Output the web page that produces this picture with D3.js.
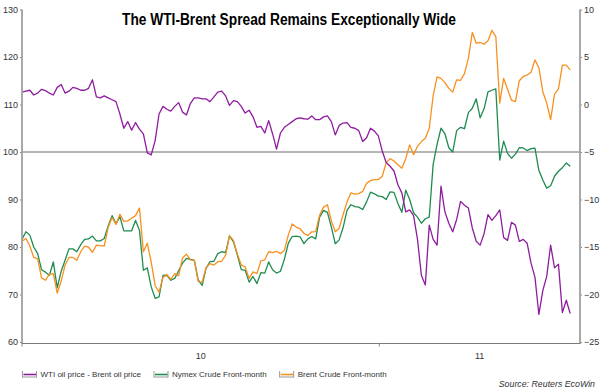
<!DOCTYPE html>
<html><head><meta charset="utf-8">
<script src="https://cdn.jsdelivr.net/npm/d3@7"></script>
<style>body{margin:0;background:#fff}svg{display:block;font-family:"Liberation Sans",Arial,sans-serif}</style>
</head><body><svg id="c" width="600" height="390"></svg>
<script>
// ---- data ----
const startDate = "2010-01-01";
const stepDays = 4;
const spread = [1.3,1.4,1.5,1.0,1.2,1.6,1.45,1.2,1.0,1.8,
2.1,1.2,1.4,1.8,1.7,1.5,1.5,1.7,2.6,0.8,
0.7,0.9,0.7,0.5,0.3,-1.0,-2.5,-1.8,-2.7,-1.9,
-2.6,-3.1,-5.1,-5.3,-3.8,-1.0,-0.2,-0.5,-0.7,-0.2,
0.2,-0.8,-1.1,0.1,0.7,0.7,0.6,0.6,0.3,0.8,
1.3,1.4,0.9,-0.1,0.4,0.3,-0.2,-0.9,-0.6,-1.3,
-2.4,-2.3,-3.0,-1.7,-3.1,-4.7,-3.0,-2.4,-2.1,-1.8,
-1.5,-1.4,-1.5,-1.55,-1.2,-1.6,-1.6,-1.3,-1.2,-1.8,
-3.2,-2.2,-1.95,-1.9,-2.4,-2.5,-2.75,-3.9,-3.5,-2.5,
-2.8,-3.3,-4.9,-6.1,-6.5,-7.0,-8.45,-9.3,-11.3,-11.1,
-11.7,-14.2,-18.0,-19.0,-12.7,-14.2,-14.8,-8.6,-11.3,-12.5,
-13.4,-12.1,-10.2,-10.6,-10.9,-13.0,-14.4,-14.8,-13.6,-11.6,
-12.2,-11.7,-11.1,-14.0,-14.3,-12.4,-12.7,-14.4,-14.2,-14.6,
-16.7,-18.2,-22.1,-19.6,-18.1,-14.8,-17.2,-16.8,-21.9,-20.6,
-22.0];
const nymex = [81.6,83.2,82.5,80.0,78.6,75.2,74.7,74.05,76.85,71.4,
74.9,77.2,79.6,79.6,79.0,80.5,81.6,81.7,82.3,81.3,
81.3,81.8,84.4,86.6,84.9,86.4,83.4,83.4,83.4,85.6,
83.5,75.1,75.6,71.6,69.2,69.5,74.0,74.05,73.0,73.4,
75.0,76.6,77.6,77.4,77.2,73.1,71.9,75.5,76.9,77.0,
78.6,79.0,78.8,82.35,81.1,78.3,75.25,75.1,72.6,73.8,
72.3,74.6,74.5,76.85,75.2,74.5,74.9,77.4,80.75,82.2,
82.3,82.15,80.7,81.7,82.2,81.7,86.3,87.7,87.3,84.2,
80.7,81.5,84.1,87.7,88.9,88.5,88.4,87.9,89.5,91.55,
91.2,90.7,90.6,90.0,91.6,91.5,89.15,87.3,91.95,90.0,
87.2,86.3,85.0,85.95,86.3,97.4,101.6,105.0,103.85,100.9,
100.0,104.5,105.2,104.9,108.3,109.2,111.2,107.2,109.1,112.65,
113.0,113.3,98.3,102.3,99.7,98.7,99.55,100.9,100.85,100.3,
100.7,100.8,96.1,94.1,92.4,92.9,94.9,95.95,96.7,97.7,
97.0];
const brent = [81.2,81.8,80.2,77.8,77.5,73.5,73.0,74.3,74.4,70.3,
72.8,76.2,77.8,77.8,77.2,79.0,80.2,79.95,78.9,80.4,
80.3,80.2,84.1,86.2,84.75,86.9,85.4,85.5,86.05,86.6,
88.2,79.0,80.8,76.8,71.9,70.5,73.6,74.2,73.2,74.4,
73.95,77.7,78.5,77.3,77.25,72.7,72.6,75.6,76.5,76.2,
76.9,77.0,78.3,82.35,81.4,78.5,76.2,75.8,73.4,74.75,
74.4,77.1,77.3,79.0,78.8,79.1,78.6,79.3,82.5,84.85,
84.2,83.85,82.9,82.4,83.2,83.25,86.7,88.4,88.9,85.5,
83.2,83.95,86.8,89.5,91.4,91.15,91.25,91.7,93.4,94.0,
94.2,94.2,94.9,97.7,98.6,98.1,97.3,96.6,98.6,101.5,
99.4,101.2,102.2,102.9,105.0,111.85,115.8,115.5,114.6,113.4,
112.6,115.2,115.1,116.5,119.75,125.2,122.9,123.05,122.7,123.4,
125.6,124.3,110.3,115.5,113.2,110.9,110.6,115.0,115.9,116.2,
116.8,119.4,117.75,112.7,110.3,106.8,112.2,113.3,118.3,118.3,
117.3];
const leftTicks = [60,70,80,90,100,110,120,130];
const rightTicks = [-25,-20,-15,-10,-5,0,5,10];
const yearStarts = ["2010-01-01","2011-01-01"];
const xDomain = ["2010-01-01","2011-07-25"];
const seriesNames = ["WTI oil price - Brent oil price","Nymex Crude Front-month","Brent Crude Front-month"];
const seriesColors = ["#8e1c9e","#1e8c50","#f7901e"];
const titleText = "The WTI-Brent Spread Remains Exceptionally Wide";
const sourceText = "Source: Reuters EcoWin";

// ---- chart ----
const parse = d3.timeParse("%Y-%m-%d");
const t0 = parse(startDate);
const dates = spread.map((_, i) => d3.timeDay.offset(t0, i * stepDays));
const svg = d3.select("#c");
const L = 22, R = 580, T = 9.5, B = 342;
const x = d3.scaleTime().domain(xDomain.map(parse)).range([L, R]);
const yL = d3.scaleLinear().domain([60, 130]).range([B, T]);
const yR = d3.scaleLinear().domain([-25, 10]).range([B, T]);

// reference line at 100 / -5
svg.append("line").attr("x1", L).attr("x2", R)
  .attr("y1", yL(100)).attr("y2", yL(100))
  .attr("stroke", "#6a6a6a").attr("stroke-width", 1);

// lines
const series = [
  {vals: spread, y: yR, color: seriesColors[0]},
  {vals: nymex, y: yL, color: seriesColors[1]},
  {vals: brent, y: yL, color: seriesColors[2]}
];
[series[1], series[2], series[0]].forEach(s => {
  const line = d3.line().x((d, i) => x(dates[i])).y(d => s.y(d));
  svg.append("path").datum(s.vals).attr("d", line)
    .attr("fill", "none").attr("stroke", s.color)
    .attr("stroke-width", 1.3).attr("stroke-linejoin", "round");
});

// left axis
const gl = svg.append("g").attr("transform", `translate(${L},0)`)
  .call(d3.axisLeft(yL).tickValues(leftTicks).tickSize(2).tickPadding(2).tickSizeOuter(0));
// right axis
const gr = svg.append("g").attr("transform", `translate(${R},0)`)
  .call(d3.axisRight(yR).tickValues(rightTicks).tickSize(2).tickPadding(2).tickSizeOuter(0));
[gl, gr].forEach(g => {
  g.select(".domain").remove();
  g.selectAll(".tick line").attr("stroke", "#888");
  g.selectAll(".tick text").attr("fill", "#333").style("font-size", "9px")
    .style("font-family", '"Liberation Sans",Arial,sans-serif');
});
// axis lines
svg.append("line").attr("x1", L).attr("x2", L).attr("y1", T).attr("y2", B + 2)
  .attr("stroke", "#a0a0a0").attr("stroke-width", 1.8);
svg.append("line").attr("x1", R).attr("x2", R).attr("y1", T).attr("y2", B + 2)
  .attr("stroke", "#a0a0a0").attr("stroke-width", 1.8);
svg.append("line").attr("x1", L).attr("x2", R).attr("y1", B + 1.5).attr("y2", B + 1.5)
  .attr("stroke", "#7a7a7a").attr("stroke-width", 1);

// x ticks (year boundaries) and centered year labels
const ys = yearStarts.map(parse);
svg.selectAll(".xt").data(ys).enter().append("line")
  .attr("x1", d => x(d)).attr("x2", d => x(d))
  .attr("y1", B + 1.5).attr("y2", B + 4.5).attr("stroke", "#888");
const fmtY = d3.timeFormat("%y");
svg.selectAll(".yl").data(ys).enter().append("text")
  .attr("x", d => {
    const a = Math.max(x(d), L);
    const b = Math.min(x(d3.timeYear.offset(d, 1)), R);
    return (a + b) / 2;
  })
  .attr("y", 359).attr("text-anchor", "middle")
  .attr("fill", "#333").style("font-size", "9px")
  .text(d => fmtY(d));

// title
svg.append("text").attr("x", 289).attr("y", 25).attr("text-anchor", "middle")
  .style("font-size", "16px").style("font-weight", "bold").attr("fill", "#000")
  .attr("textLength", 334).attr("lengthAdjust", "spacingAndGlyphs")
  .text(titleText);

// legend
let lx = 22.5;
const ly = 374;
seriesNames.forEach((name, i) => {
  const g = svg.append("g").attr("transform", `translate(${lx},${ly})`);
  g.append("line").attr("x1", 0).attr("x2", 0).attr("y1", -3).attr("y2", 3.5).attr("stroke", "#999");
  g.append("line").attr("x1", 14).attr("x2", 14).attr("y1", -3).attr("y2", 3.5).attr("stroke", "#999");
  g.append("line").attr("x1", 0).attr("x2", 14).attr("y1", 3).attr("y2", 3).attr("stroke", "#999");
  g.append("line").attr("x1", 1).attr("x2", 13.5).attr("y1", 0.5).attr("y2", 0.5)
    .attr("stroke", seriesColors[i]).attr("stroke-width", 1.6);
  const t = g.append("text").attr("x", 18).attr("y", 3.3).attr("fill", "#333")
    .style("font-size", "8px").text(name);
  lx += 18 + t.node().getComputedTextLength() + 13;
});

// source
svg.append("text").attr("x", 595).attr("y", 387).attr("text-anchor", "end")
  .attr("fill", "#333").style("font-size", "8.8px").style("font-style", "italic")
  .text(sourceText);
</script></body></html>
